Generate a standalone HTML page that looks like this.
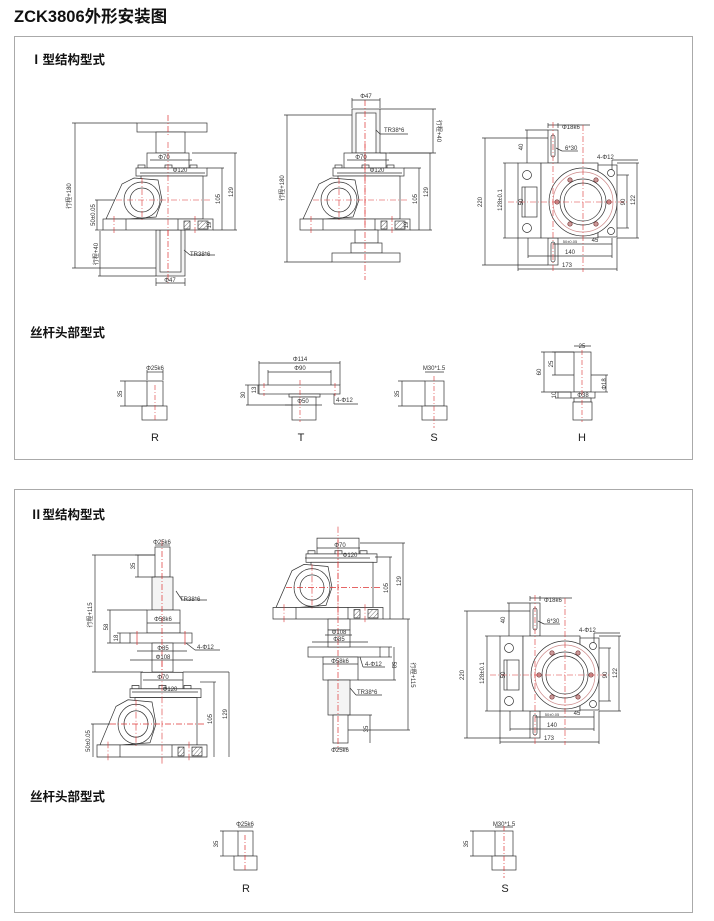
<!DOCTYPE html>
<html><head><meta charset="utf-8"><style>
html,body{margin:0;padding:0;background:#fff;}
svg{display:block}
text{font-family:"Liberation Sans","Noto Sans CJK SC",sans-serif;fill:#333}
.d{font-size:6px}
.h{font-size:12.5px;font-weight:bold;fill:#111}
.L{font-size:11px;fill:#222}
</style></head><body>
<svg width="714" height="921" viewBox="0 0 714 921" xmlns="http://www.w3.org/2000/svg">
<defs>
<pattern id="hat" width="3" height="3" patternUnits="userSpaceOnUse" patternTransform="rotate(45)"><line x1="0" y1="0" x2="0" y2="3" stroke="#555" stroke-width="0.8"/></pattern>
<g id="gb" fill="#fff" stroke="#333" stroke-width="0.7">
 <rect x="-21" y="-77" width="42" height="15"/>
 <rect x="-30" y="-65" width="7" height="3"/><rect x="-3" y="-65" width="7" height="3"/><rect x="22" y="-65" width="7" height="3"/>
 <rect x="-32" y="-62" width="71" height="8"/>
 <rect x="-27" y="-54" width="62" height="43"/>
 <path d="M-62,-11 L-46,-46 L-34,-52 L-10,-50 L-6,-30 L-12,-13 L-40,-11 Z"/>
 <circle cx="-26" cy="-30" r="18"/><circle cx="-26" cy="-30" r="12"/>
 <rect x="-65" y="-11" width="110" height="11"/>
 <line x1="-42" y1="-11" x2="-42" y2="0"/><line x1="10" y1="-11" x2="10" y2="0"/>
 <rect x="16" y="-9" width="6" height="8" fill="url(#hat)"/><rect x="30" y="-9" width="10" height="8" fill="url(#hat)"/>
 <g stroke="#d33" stroke-dasharray="6,2,1,2" stroke-width="0.6" fill="none">
  <line x1="0" y1="-88" x2="0" y2="6"/><line x1="-52" y1="-30" x2="42" y2="-30"/>
  <line x1="-26" y1="-52" x2="-26" y2="-8"/><line x1="-54" y1="-14" x2="-54" y2="3"/><line x1="27" y1="-14" x2="27" y2="3"/>
 </g>
</g>
<g id="sv" fill="#fff" stroke="#333" stroke-width="0.7">
 <line x1="482" y1="138" x2="548" y2="138"/><line x1="482" y1="265" x2="548" y2="265"/><line x1="485" y1="138" x2="485" y2="265"/>
 <line x1="525" y1="130" x2="548" y2="130"/><line x1="527" y1="130" x2="527" y2="163"/>
 <rect x="548" y="130" width="10" height="33"/><rect x="548" y="238" width="10" height="27"/>
 <rect x="551" y="135" width="4" height="22" rx="2"/><rect x="551" y="242" width="4" height="20" rx="2"/>
 <rect x="518" y="163" width="23" height="75"/><rect x="522" y="187" width="15" height="30"/>
 <circle cx="527" cy="175" r="4.5"/><circle cx="527" cy="228" r="4.5"/>
 <rect x="541" y="163" width="57" height="75"/>
 <rect x="598" y="165" width="19" height="72"/>
 <circle cx="583" cy="202" r="34"/><circle cx="583" cy="202" r="30" stroke="#c88"/><circle cx="583" cy="202" r="23"/><circle cx="583" cy="202" r="19"/>
 <circle cx="611" cy="173" r="3.5"/><circle cx="611" cy="231" r="3.5"/>
 <g fill="#c99" stroke="#733"><circle cx="557" cy="202" r="2.2"/><circle cx="609" cy="202" r="2.2"/><circle cx="570" cy="180" r="2.2"/><circle cx="596" cy="180" r="2.2"/><circle cx="570" cy="224" r="2.2"/><circle cx="596" cy="224" r="2.2"/></g>
 <g fill="none">
 <line x1="503" y1="163" x2="518" y2="163"/><line x1="503" y1="238" x2="518" y2="238"/><line x1="505" y1="163" x2="505" y2="238"/>
 <line x1="525" y1="187" x2="525" y2="217"/>
 <line x1="617" y1="175" x2="629" y2="175"/><line x1="617" y1="228" x2="629" y2="228"/><line x1="627" y1="175" x2="627" y2="228"/>
 <line x1="617" y1="163" x2="639" y2="163"/><line x1="617" y1="238" x2="639" y2="238"/><line x1="637" y1="163" x2="637" y2="238"/>
 <line x1="553" y1="244" x2="612" y2="244"/><line x1="612" y1="238" x2="612" y2="258"/>
 <line x1="528" y1="256" x2="612" y2="256"/><line x1="528" y1="238" x2="528" y2="258"/>
 <line x1="518" y1="269" x2="617" y2="269"/><line x1="518" y1="238" x2="518" y2="271"/><line x1="617" y1="238" x2="617" y2="271"/>
 <line x1="548" y1="128" x2="548" y2="123"/><line x1="558" y1="128" x2="558" y2="123"/><line x1="548" y1="125" x2="590" y2="125"/>
 <line x1="556" y1="148" x2="562" y2="151"/><line x1="562" y1="151" x2="578" y2="151"/>
 <line x1="612" y1="170" x2="612" y2="160"/><line x1="612" y1="160" x2="638" y2="160"/>
 </g>
 <g stroke="#d33" stroke-dasharray="6,2,1,2" stroke-width="0.6" fill="none"><line x1="553" y1="122" x2="553" y2="272"/><line x1="583" y1="125" x2="583" y2="272"/><line x1="508" y1="202" x2="628" y2="202"/></g>
</g>
</defs>

<text x="14" y="22" style="font-size:16.5px;font-weight:bold;fill:#111">ZCK3806外形安装图</text>
<rect x="14.5" y="36.5" width="678" height="423" fill="none" stroke="#aaa"/>
<rect x="14.5" y="489.5" width="678" height="423" fill="none" stroke="#aaa"/>
<text class="h" x="30" y="64">Ⅰ型结构型式</text>
<text class="h" x="30" y="337">丝杆头部型式</text>
<text class="h" x="30" y="519">Ⅱ型结构型式</text>
<text class="h" x="30" y="801">丝杆头部型式</text>

<g fill="#fff" stroke="#333" stroke-width="0.7">
<!-- Box1 view1 -->
<rect x="137" y="123" width="70" height="9"/><rect x="156" y="132" width="29" height="21"/>
<rect x="156" y="230" width="29" height="46" fill="#f4f4f4"/><rect x="160" y="230" width="21" height="42"/>
<use href="#gb" transform="translate(168,230)"/>
<line x1="168" y1="115" x2="168" y2="135" stroke="#d33" stroke-dasharray="6,2,1,2"/>
<line x1="168" y1="230" x2="168" y2="285" stroke="#d33" stroke-dasharray="6,2,1,2"/>
<g fill="none">
<line x1="72" y1="123" x2="137" y2="123"/><line x1="72" y1="268" x2="156" y2="268"/><line x1="75" y1="123" x2="75" y2="268"/>
<line x1="95" y1="200" x2="115" y2="200"/><line x1="95" y1="230" x2="103" y2="230"/><line x1="97" y1="200" x2="97" y2="230"/>
<line x1="100" y1="231" x2="100" y2="276"/><line x1="98" y1="276" x2="156" y2="276"/>
<line x1="156" y1="278" x2="156" y2="286"/><line x1="185" y1="278" x2="185" y2="286"/><line x1="156" y1="283" x2="185" y2="283"/>
<line x1="150" y1="160" x2="192" y2="160"/><line x1="140" y1="173" x2="205" y2="173"/>
<line x1="192" y1="153" x2="237" y2="153"/><line x1="207" y1="168" x2="224" y2="168"/><line x1="213" y1="230" x2="237" y2="230"/>
<line x1="222" y1="168" x2="222" y2="230"/><line x1="235" y1="153" x2="235" y2="230"/>
<line x1="184" y1="250" x2="190" y2="255"/><line x1="190" y1="255" x2="215" y2="255"/>
</g>
<!-- Box1 view2 -->
<rect x="352" y="109" width="28" height="44" fill="#f4f4f4"/><rect x="356" y="113" width="20" height="40"/>
<use href="#gb" transform="translate(365,230)"/>
<rect x="355" y="230" width="23" height="13"/><rect x="351" y="243" width="31" height="10"/><rect x="332" y="253" width="68" height="9"/>
<line x1="365" y1="100" x2="365" y2="280" stroke="#d33" stroke-dasharray="6,2,1,2" fill="none"/>
<g fill="none">
<line x1="352" y1="98" x2="352" y2="108"/><line x1="380" y1="98" x2="380" y2="108"/><line x1="352" y1="100" x2="380" y2="100"/>
<line x1="380" y1="109" x2="436" y2="109"/><line x1="380" y1="153" x2="436" y2="153"/><line x1="433" y1="109" x2="433" y2="153"/>
<line x1="284" y1="115" x2="352" y2="115"/><line x1="284" y1="262" x2="332" y2="262"/><line x1="287" y1="115" x2="287" y2="262"/>
<line x1="347" y1="160" x2="389" y2="160"/><line x1="337" y1="173" x2="402" y2="173"/>
<line x1="389" y1="153" x2="432" y2="153"/><line x1="404" y1="168" x2="421" y2="168"/><line x1="410" y1="230" x2="432" y2="230"/>
<line x1="419" y1="168" x2="419" y2="230"/><line x1="430" y1="153" x2="430" y2="230"/>
<line x1="376" y1="130" x2="380" y2="134"/><line x1="380" y1="134" x2="408" y2="134"/>
</g>
<use href="#sv"/>
<use href="#sv" transform="translate(-18,473)"/>

<!-- heads box1 -->
<rect x="147" y="381" width="16" height="25"/><rect x="142" y="406" width="25" height="14"/>
<rect x="259" y="385" width="81" height="9"/><rect x="289" y="394" width="31" height="3"/><rect x="292" y="397" width="24" height="23"/>
<rect x="425" y="381" width="19" height="25"/><rect x="422" y="406" width="25" height="14"/>
<rect x="574" y="352" width="17" height="40"/><rect x="571" y="392" width="24" height="6"/><rect x="574" y="398" width="17" height="4"/><rect x="573" y="402" width="19" height="18"/>
<g fill="none">
<line x1="120" y1="381" x2="147" y2="381"/><line x1="120" y1="406" x2="147" y2="406"/><line x1="125" y1="381" x2="125" y2="406"/>
<line x1="147" y1="372" x2="163" y2="372"/><line x1="147" y1="370" x2="147" y2="380"/><line x1="163" y1="370" x2="163" y2="380"/>
<line x1="259" y1="363" x2="340" y2="363"/><line x1="259" y1="361" x2="259" y2="385"/><line x1="340" y1="361" x2="340" y2="385"/>
<line x1="268" y1="372" x2="331" y2="372"/><line x1="268" y1="370" x2="268" y2="385"/><line x1="331" y1="370" x2="331" y2="385"/>
<line x1="285" y1="405" x2="322" y2="405"/>
<line x1="245" y1="385" x2="259" y2="385"/><line x1="246" y1="405" x2="292" y2="405"/><line x1="248" y1="385" x2="248" y2="405"/>
<line x1="258" y1="385" x2="258" y2="394"/>
<line x1="334" y1="394" x2="334" y2="404"/><line x1="334" y1="404" x2="358" y2="404"/>
<line x1="398" y1="381" x2="425" y2="381"/><line x1="398" y1="406" x2="422" y2="406"/><line x1="402" y1="381" x2="402" y2="406"/>
<line x1="425" y1="372" x2="444" y2="372"/>
<line x1="541" y1="352" x2="574" y2="352"/><line x1="541" y1="392" x2="571" y2="392"/><line x1="544" y1="352" x2="544" y2="392"/>
<line x1="552" y1="352" x2="574" y2="352"/><line x1="552" y1="375" x2="574" y2="375"/><line x1="555" y1="352" x2="555" y2="375"/>
<line x1="555" y1="392" x2="571" y2="392"/><line x1="555" y1="398" x2="571" y2="398"/><line x1="558" y1="392" x2="558" y2="398"/>
<line x1="574" y1="346" x2="591" y2="346"/>
<line x1="591" y1="375" x2="608" y2="375"/><line x1="595" y1="392" x2="608" y2="392"/><line x1="606" y1="375" x2="606" y2="392"/>
</g>
<g stroke="#d33" stroke-dasharray="5,2,1,2" stroke-width="0.6" fill="none">
<line x1="155" y1="385" x2="155" y2="422"/><line x1="300" y1="380" x2="300" y2="422"/><line x1="434" y1="376" x2="434" y2="428"/><line x1="582" y1="350" x2="582" y2="422"/>
<line x1="264" y1="383" x2="264" y2="396"/><line x1="335" y1="383" x2="335" y2="396"/>
</g>

<!-- Box2 view A -->
<rect x="155" y="547" width="15" height="30"/><rect x="152" y="577" width="21" height="33" fill="#f4f4f4"/>
<rect x="147" y="610" width="33" height="23"/><rect x="130" y="633" width="62" height="10"/><rect x="152" y="643" width="21" height="29"/>
<use href="#gb" transform="translate(162,757) scale(1,1.1)"/>
<line x1="162" y1="540" x2="162" y2="672" stroke="#d33" stroke-dasharray="6,2,1,2" fill="none"/>
<line x1="137" y1="631" x2="137" y2="645" stroke="#d33" fill="none"/><line x1="185" y1="631" x2="185" y2="645" stroke="#d33" fill="none"/>
<g fill="none">
<line x1="155" y1="545" x2="170" y2="545"/>
<line x1="135" y1="555" x2="155" y2="555"/><line x1="138" y1="555" x2="138" y2="577"/><line x1="135" y1="577" x2="155" y2="577"/>
<line x1="92" y1="555" x2="155" y2="555"/><line x1="95" y1="555" x2="95" y2="672"/><line x1="92" y1="672" x2="143" y2="672"/>
<line x1="107" y1="610" x2="147" y2="610"/><line x1="110" y1="610" x2="110" y2="643"/><line x1="107" y1="643" x2="130" y2="643"/>
<line x1="117" y1="633" x2="130" y2="633"/><line x1="120" y1="633" x2="120" y2="643"/>
<line x1="147" y1="623" x2="180" y2="623"/><line x1="137" y1="651" x2="187" y2="651"/><line x1="130" y1="660" x2="193" y2="660"/>
<line x1="176" y1="591" x2="182" y2="600"/><line x1="182" y1="600" x2="207" y2="600"/>
<line x1="186" y1="643" x2="195" y2="650"/><line x1="195" y1="650" x2="220" y2="650"/>
<line x1="143" y1="680" x2="183" y2="680"/><line x1="132" y1="692" x2="198" y2="692"/>
<line x1="183" y1="672" x2="229" y2="672"/><line x1="229" y1="672" x2="229" y2="757"/><line x1="200" y1="682" x2="216" y2="682"/><line x1="214" y1="682" x2="214" y2="757"/>
<line x1="91" y1="724" x2="110" y2="724"/><line x1="93" y1="724" x2="93" y2="757"/>
</g>
<!-- Box2 view B -->
<use href="#gb" transform="translate(338,619) scale(1,1.05)"/>
<rect x="328" y="619" width="22" height="11"/><rect x="308" y="647" width="72" height="10"/><rect x="328" y="630" width="22" height="17"/>
<rect x="323" y="657" width="35" height="23"/><rect x="328" y="680" width="22" height="35" fill="#f4f4f4"/><rect x="333" y="715" width="15" height="28"/>
<line x1="338" y1="540" x2="338" y2="750" stroke="#d33" stroke-dasharray="6,2,1,2" fill="none"/>
<g fill="none">
<line x1="317" y1="548" x2="360" y2="548"/><line x1="305" y1="558" x2="370" y2="558"/>
<line x1="360" y1="543" x2="405" y2="543"/><line x1="403" y1="543" x2="403" y2="619"/><line x1="375" y1="557" x2="392" y2="557"/><line x1="390" y1="557" x2="390" y2="619"/>
<line x1="383" y1="619" x2="410" y2="619"/><line x1="408" y1="619" x2="408" y2="730"/><line x1="348" y1="730" x2="410" y2="730"/>
<line x1="325" y1="635" x2="352" y2="635"/><line x1="312" y1="642" x2="368" y2="642"/>
<line x1="323" y1="664" x2="358" y2="664"/>
<line x1="380" y1="647" x2="392" y2="647"/><line x1="380" y1="657" x2="392" y2="657"/><line x1="389" y1="647" x2="389" y2="657"/>
<line x1="358" y1="680" x2="396" y2="680"/><line x1="394" y1="647" x2="394" y2="680"/>
<line x1="360" y1="657" x2="363" y2="667"/><line x1="363" y1="667" x2="385" y2="667"/>
<line x1="350" y1="688" x2="356" y2="695"/><line x1="356" y1="695" x2="382" y2="695"/>
<line x1="348" y1="715" x2="372" y2="715"/><line x1="370" y1="715" x2="370" y2="743"/>
<line x1="333" y1="748" x2="348" y2="748"/>
</g>
<!-- heads box2 -->
<rect x="238" y="831" width="15" height="25"/><rect x="234" y="856" width="23" height="14"/>
<rect x="495" y="831" width="18" height="25"/><rect x="492" y="856" width="24" height="14"/>
<g fill="none">
<line x1="220" y1="831" x2="238" y2="831"/><line x1="220" y1="856" x2="234" y2="856"/><line x1="223" y1="831" x2="223" y2="856"/>
<line x1="238" y1="827" x2="253" y2="827"/>
<line x1="470" y1="831" x2="495" y2="831"/><line x1="470" y1="856" x2="492" y2="856"/><line x1="473" y1="831" x2="473" y2="856"/>
<line x1="495" y1="827" x2="513" y2="827"/>
</g>
<line x1="245" y1="835" x2="245" y2="872" stroke="#d33" stroke-dasharray="5,2,1,2" fill="none"/>
<line x1="504" y1="826" x2="504" y2="878" stroke="#d33" stroke-dasharray="5,2,1,2" fill="none"/>
</g>

<!-- dimension text -->
<g class="d">
<text x="164" y="159" text-anchor="middle">Φ70</text><text x="180" y="172" text-anchor="middle">Φ120</text>
<text x="170" y="282" text-anchor="middle">Φ47</text><text x="190" y="256">TR38*6</text>
<text transform="translate(71,196) rotate(-90)" text-anchor="middle">行程+180</text>
<text transform="translate(95,215) rotate(-90)" text-anchor="middle">50±0.05</text>
<text transform="translate(98,254) rotate(-90)" text-anchor="middle">行程+40</text>
<text transform="translate(220,199) rotate(-90)" text-anchor="middle">105</text>
<text transform="translate(233,192) rotate(-90)" text-anchor="middle">129</text>
<text transform="translate(211,225) rotate(-90)" text-anchor="middle">19</text>
<text x="366" y="98" text-anchor="middle">Φ47</text><text x="384" y="132">TR38*6</text>
<text x="361" y="159" text-anchor="middle">Φ70</text><text x="377" y="172" text-anchor="middle">Φ120</text>
<text transform="translate(437,131) rotate(90)" text-anchor="middle">行程+40</text>
<text transform="translate(284,188) rotate(-90)" text-anchor="middle">行程+180</text>
<text transform="translate(417,199) rotate(-90)" text-anchor="middle">105</text>
<text transform="translate(428,192) rotate(-90)" text-anchor="middle">129</text>
<text transform="translate(408,225) rotate(-90)" text-anchor="middle">19</text>
<!-- side views -->
<text x="562" y="129">Φ18k6</text><text x="565" y="150">6*30</text><text x="597" y="159">4-Φ12</text>
<text transform="translate(482,202) rotate(-90)" text-anchor="middle">220</text>
<text transform="translate(502,200) rotate(-90)" text-anchor="middle">128±0.1</text>
<text transform="translate(523,147) rotate(-90)" text-anchor="middle">40</text>
<text transform="translate(523,202) rotate(-90)" text-anchor="middle">50</text>
<text transform="translate(625,202) rotate(-90)" text-anchor="middle">90</text>
<text transform="translate(635,200) rotate(-90)" text-anchor="middle">122</text>
<text x="595" y="242" text-anchor="middle">45</text><text x="570" y="243" text-anchor="middle" style="font-size:4px">50±0.05</text>
<text x="570" y="254" text-anchor="middle">140</text><text x="567" y="267" text-anchor="middle">173</text>
<text x="544" y="602">Φ18k6</text><text x="547" y="623">6*30</text><text x="579" y="632">4-Φ12</text>
<text transform="translate(464,675) rotate(-90)" text-anchor="middle">220</text>
<text transform="translate(484,673) rotate(-90)" text-anchor="middle">128±0.1</text>
<text transform="translate(505,620) rotate(-90)" text-anchor="middle">40</text>
<text transform="translate(505,675) rotate(-90)" text-anchor="middle">50</text>
<text transform="translate(607,675) rotate(-90)" text-anchor="middle">90</text>
<text transform="translate(617,673) rotate(-90)" text-anchor="middle">122</text>
<text x="577" y="715" text-anchor="middle">45</text><text x="552" y="716" text-anchor="middle" style="font-size:4px">50±0.05</text>
<text x="552" y="727" text-anchor="middle">140</text><text x="549" y="740" text-anchor="middle">173</text>
<!-- heads -->
<text x="155" y="370" text-anchor="middle">Φ25k6</text>
<text transform="translate(122,394) rotate(-90)" text-anchor="middle">35</text>
<text x="300" y="361" text-anchor="middle">Φ114</text><text x="300" y="370" text-anchor="middle">Φ90</text><text x="303" y="403" text-anchor="middle">Φ50</text>
<text x="336" y="402">4-Φ12</text>
<text transform="translate(245,395) rotate(-90)" text-anchor="middle">30</text>
<text transform="translate(256,390) rotate(-90)" text-anchor="middle">13</text>
<text x="434" y="370" text-anchor="middle">M30*1.5</text>
<text transform="translate(399,394) rotate(-90)" text-anchor="middle">35</text>
<text x="582" y="348" text-anchor="middle">25</text><text x="583" y="397" text-anchor="middle">Φ38</text>
<text transform="translate(541,372) rotate(-90)" text-anchor="middle">60</text>
<text transform="translate(553,364) rotate(-90)" text-anchor="middle">25</text>
<text transform="translate(556,395) rotate(-90)" text-anchor="middle">10</text>
<text transform="translate(606,384) rotate(-90)" text-anchor="middle">Φ18</text>
<text x="162" y="544" text-anchor="middle">Φ25k6</text><text transform="translate(135,566) rotate(-90)" text-anchor="middle">35</text>
<text x="180" y="601">TR38*6</text><text x="163" y="621" text-anchor="middle">Φ58k6</text>
<text x="163" y="650" text-anchor="middle">Φ85</text><text x="163" y="659" text-anchor="middle">Φ108</text><text x="197" y="649">4-Φ12</text>
<text transform="translate(92,615) rotate(-90)" text-anchor="middle">行程+115</text>
<text transform="translate(108,627) rotate(-90)" text-anchor="middle">58</text>
<text transform="translate(118,638) rotate(-90)" text-anchor="middle">18</text>
<text x="163" y="679" text-anchor="middle">Φ70</text><text x="170" y="691" text-anchor="middle">Φ120</text>
<text transform="translate(212,719) rotate(-90)" text-anchor="middle">105</text>
<text transform="translate(227,714) rotate(-90)" text-anchor="middle">129</text>
<text transform="translate(90,741) rotate(-90)" text-anchor="middle">50±0.05</text>
<text x="340" y="547" text-anchor="middle">Φ70</text><text x="350" y="557" text-anchor="middle">Φ120</text>
<text transform="translate(388,588) rotate(-90)" text-anchor="middle">105</text>
<text transform="translate(401,581) rotate(-90)" text-anchor="middle">129</text>
<text x="339" y="634" text-anchor="middle">Φ108</text><text x="339" y="641" text-anchor="middle">Φ85</text>
<text x="340" y="663" text-anchor="middle">Φ58k6</text><text x="365" y="666">4-Φ12</text>
<text transform="translate(392,665) rotate(90)" text-anchor="middle">58</text>
<text x="357" y="694">TR38*6</text>
<text transform="translate(368,729) rotate(-90)" text-anchor="middle">35</text>
<text transform="translate(411,675) rotate(90)" text-anchor="middle">行程+115</text>
<text x="340" y="752" text-anchor="middle">Φ25k6</text>
<text x="245" y="826" text-anchor="middle">Φ25k6</text><text transform="translate(218,844) rotate(-90)" text-anchor="middle">35</text>
<text x="504" y="826" text-anchor="middle">M30*1.5</text><text transform="translate(468,844) rotate(-90)" text-anchor="middle">35</text>
</g>
<text class="L" x="155" y="441" text-anchor="middle">R</text>
<text class="L" x="301" y="441" text-anchor="middle">T</text>
<text class="L" x="434" y="441" text-anchor="middle">S</text>
<text class="L" x="582" y="441" text-anchor="middle">H</text>
<text class="L" x="246" y="892" text-anchor="middle">R</text>
<text class="L" x="505" y="892" text-anchor="middle">S</text>
</svg>
</body></html>
